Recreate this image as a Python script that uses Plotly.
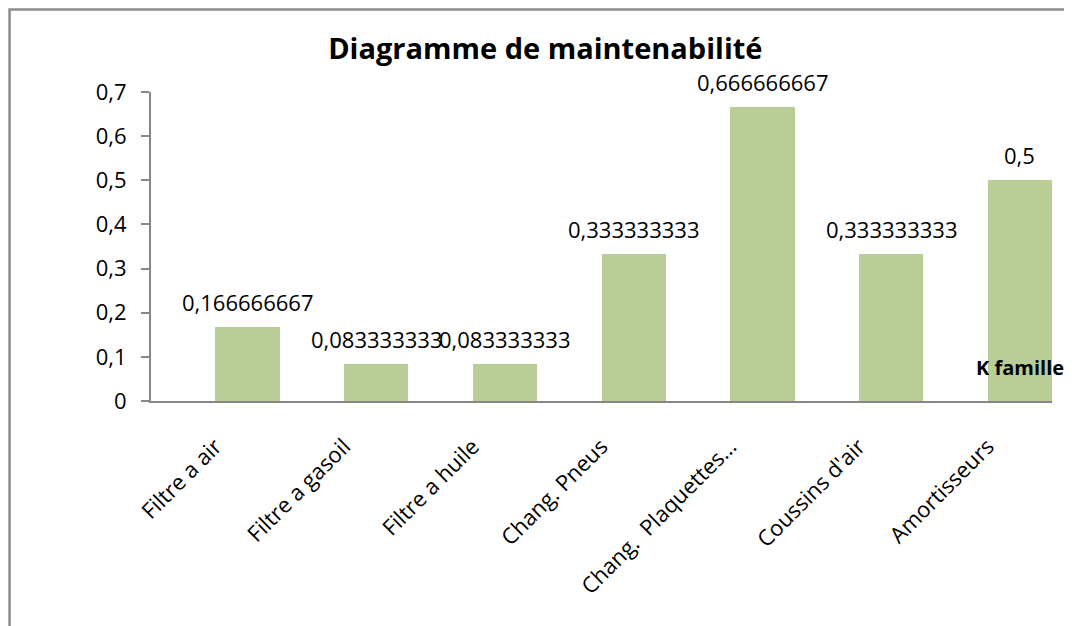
import plotly.graph_objects as go

categories = ["Filtre a air", "Filtre a gasoil", "Filtre a huile", "Chang. Pneus",
              "Chang.  Plaquettes…", "Coussins d'air", "Amortisseurs"]
k_famille = [0.166666667, 0.083333333, 0.083333333, 0.333333333,
             0.666666667, 0.333333333, 0.5]
y_ticks = [0, 0.1, 0.2, 0.3, 0.4, 0.5, 0.6, 0.7]

axis_grey = "#878787"
bar_green = "#B9CE96"
font_family = "Open Sans, Calibri, sans-serif"


def fmt(v):
    # Excel "General" style with decimal comma
    return f"{v:.9f}".rstrip("0").rstrip(".").replace(".", ",")


positions = list(range(len(categories)))

fig = go.Figure()

# bars sit in the right half of each category slot (empty first series in the source)
fig.add_trace(go.Bar(
    x=positions,
    y=k_famille,
    width=0.5,
    offset=0,
    marker=dict(color=bar_green, line=dict(width=0)),
    name="K famille",
    showlegend=False,
))

# data labels above each bar
for pos, val in zip(positions, k_famille):
    fig.add_annotation(
        x=pos + 0.25, y=val, xref="x", yref="y",
        text=fmt(val), showarrow=False,
        yanchor="middle", yshift=25,
        font=dict(size=22, color="#000000", family=font_family),
    )

# legend text drawn over the last bar
fig.add_annotation(
    x=0.9645, y=0.107, xref="paper", yref="paper",
    text="<b>K famille</b>", showarrow=False,
    xanchor="center", yanchor="middle",
    font=dict(size=20, color="#000000", family=font_family),
)

# outer chart frame (only left and top edges are visible)
fig.add_shape(type="rect", xref="paper", yref="paper",
              x0=-0.157, y0=-0.9, x1=1.2, y1=1.267,
              line=dict(color="#8C8C8C", width=2.5), layer="below")

fig.update_layout(
    width=1064,
    height=618,
    margin=dict(l=143, r=20, t=84, b=225),
    paper_bgcolor="white",
    plot_bgcolor="white",
    separators=",.",
    font=dict(family=font_family, size=20, color="#000000"),
    title=dict(
        text="<b>Diagramme de maintenabilité</b>",
        x=0.505, y=0.934, xref="container", yref="container",
        xanchor="center", yanchor="middle",
        font=dict(size=29, color="#000000", family=font_family),
    ),
    bargap=0,
)

fig.update_xaxes(
    range=[-0.5, len(categories) - 0.5],
    tickmode="array",
    tickvals=positions,
    ticktext=categories,
    tickangle=-45,
    ticks="",
    ticklabelstandoff=22,
    showgrid=False,
    zeroline=False,
    showline=True,
    linecolor=axis_grey,
    linewidth=2,
    tickfont=dict(size=22),
)

fig.update_yaxes(
    range=[0, 0.7],
    tickmode="array",
    tickvals=y_ticks,
    ticks="outside",
    ticklen=8,
    tickwidth=2,
    tickcolor=axis_grey,
    ticklabelstandoff=10,
    showgrid=False,
    zeroline=False,
    showline=True,
    linecolor=axis_grey,
    linewidth=2,
    tickfont=dict(size=22),
)

fig.write_html("out.html")
